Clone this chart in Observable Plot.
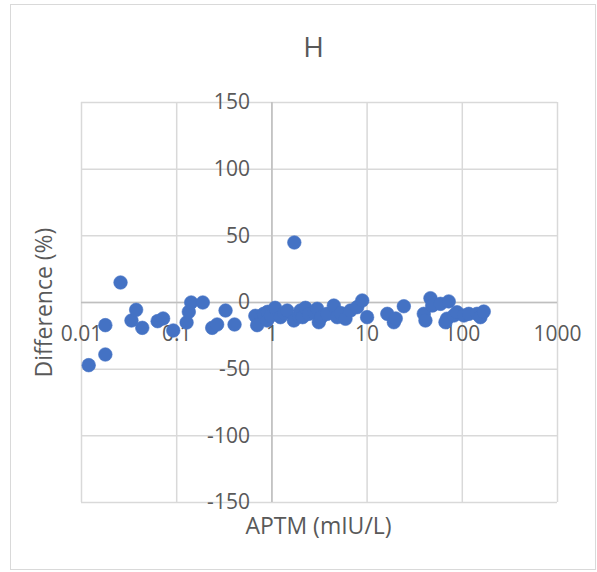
<!DOCTYPE html>
<html>
<head>
<meta charset="utf-8">
<script src="https://cdn.jsdelivr.net/npm/d3@7"></script>
<script src="https://cdn.jsdelivr.net/npm/@observablehq/plot@0.6"></script>
<style>
  body { margin: 0; background: #fff; }
  #chart { position: relative; width: 597px; height: 572px; }
  #chart svg { position: absolute; left: 0; top: 0; }
  #border { position: absolute; left: 10px; top: 4px; width: 586px; height: 566px;
            border: 1.5px solid #d9d9d9; box-sizing: border-box; pointer-events: none; }
</style>
</head>
<body>
<div id="chart"><div id="border"></div></div>
<script>
// APTM concentration (mIU/L) and percentage difference for each sample
const aptm = [
  0.0119, 0.0178, 0.0178, 0.0257, 0.0335, 0.0375, 0.0435, 0.063, 0.072, 0.092,
  0.127, 0.134, 0.142, 0.188, 0.236, 0.266, 0.326, 0.405, 0.67, 0.70,
  0.82, 0.89, 0.90, 0.97, 1.08, 1.23, 1.35, 1.45, 1.70, 1.72,
  1.92, 2.0, 2.1, 2.25, 2.44, 2.76, 2.99, 3.11, 3.3, 3.81,
  4.47, 4.85, 5.3, 5.93, 6.69, 7.87, 8.89, 10,
  16.3, 19.1, 20, 24.3, 39.4, 41, 46.3, 48.3, 59, 72,
  69, 66.6, 81.5, 88, 104, 117, 143, 155, 168
];
const difference = [
  -47, -17, -39, 15, -13.5, -5.5, -19, -14, -12, -21,
  -15, -7, 0, 0, -19, -16.5, -6, -16.5, -10, -17,
  -8.5, -13.5, -7, -10, -4, -11, -8, -6, -13.5, 45,
  -10, -6, -11, -4, -8.5, -7.3, -4.7, -14.8, -11, -8.5,
  -2.3, -11, -8, -12.2, -6, -3.5, 1.5, -11,
  -8.5, -14.8, -12, -2.8, -8.5, -13.5, 3.2, -2.3, -1, 0.8,
  -12.2, -14.8, -9.75, -7.3, -9.75, -8.5, -8.5, -11, -6.8
];

// Axis ticks and their labels
const xTicks = [0.01, 0.1, 1, 10, 100, 1000];
const xTickLabels = ["0.01", "0.1", "1", "10", "100", "1000"];
const yTicks = [150, 100, 50, 0, -50, -100, -150];
const yTickLabels = ["150", "100", "50", "0", "-50", "-100", "-150"];

const title = "H";
const xTitle = "APTM (mIU/L)";
const yTitle = "Difference (%)";

const points = aptm.map((x, i) => ({x, y: difference[i]}));
const ink = "#595959";

const chart = Plot.plot({
  width: 597,
  height: 572,
  marginLeft: 81,
  marginRight: 40,
  marginTop: 102,
  marginBottom: 70,
  style: {background: "transparent", fontFamily: "Open Sans, sans-serif", color: ink},
  x: {type: "log", domain: [0.01, 1000], axis: null},
  y: {domain: [-150, 150], axis: null},
  marks: [
    // gridlines
    Plot.ruleX(xTicks, {x: d => d, stroke: "#d9d9d9", strokeWidth: 1.5, strokeOpacity: 1}),
    Plot.ruleY(yTicks, {y: d => d, stroke: "#d9d9d9", strokeWidth: 1.5, strokeOpacity: 1}),
    // axis lines crossing at x = 1, y = 0
    Plot.ruleX([1], {x: d => d, stroke: "#bfbfbf", strokeWidth: 1.5, strokeOpacity: 1}),
    Plot.ruleY([0], {y: d => d, stroke: "#bfbfbf", strokeWidth: 1.5, strokeOpacity: 1}),
    // tick labels
    Plot.text(xTicks, {x: d => d, y: () => 0, text: (d, i) => xTickLabels[i],
      dy: 32, fontSize: 21, fill: ink}),
    Plot.text(yTicks, {x: () => 1, y: d => d, text: (d, i) => yTickLabels[i],
      textAnchor: "end", dx: -22, fontSize: 21, fill: ink}),
    // data points
    Plot.dot(points, {x: "x", y: "y", r: 6.8, fill: "#4472c4", stroke: "#4472c4", strokeWidth: 0.6}),
    // titles
    Plot.text([title], {frameAnchor: "top", lineAnchor: "middle", dy: -54, dx: -6,
      fontSize: 28, fill: ink}),
    Plot.text([xTitle], {frameAnchor: "bottom", lineAnchor: "middle", dy: 24, dx: -1,
      fontSize: 23, fill: ink}),
    Plot.text([yTitle], {frameAnchor: "left", textAnchor: "middle", dx: -37, rotate: -90,
      fontSize: 23, fill: ink})
  ]
});

document.getElementById("chart").prepend(chart);
</script>
</body>
</html>
